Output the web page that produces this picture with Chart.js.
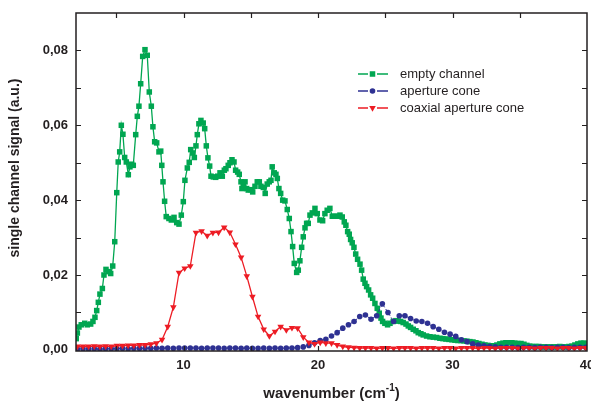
<!DOCTYPE html>
<html>
<head>
<meta charset="utf-8">
<script src="https://cdn.jsdelivr.net/npm/chart.js@4.4.0/dist/chart.umd.min.js"></script>
<style>
  html, body { margin: 0; padding: 0; background: #fff; }
  canvas { display: block; }
</style>
</head>
<body>
<canvas id="spectrum" width="591" height="403"></canvas>
<script>
// empty channel (green squares)
const emptyWavenumber = [
  2.02, 2.10, 2.22, 2.39, 2.65, 2.84, 3.09, 3.26, 3.41, 3.54,
  3.66, 3.78, 3.96, 4.08, 4.23, 4.40, 4.58, 4.73, 4.88, 5.03,
  5.14, 5.25, 5.37, 5.49, 5.62, 5.74, 5.89, 6.01, 6.14, 6.26,
  6.44, 6.56, 6.68, 6.81, 6.96, 7.13, 7.30, 7.45, 7.60, 7.72,
  7.85, 8.00, 8.17, 8.30, 8.38, 8.47, 8.59, 8.71, 8.91, 9.09,
  9.29, 9.49, 9.66, 9.83, 9.98, 10.10, 10.28, 10.42, 10.53, 10.68,
  10.80, 10.92, 11.02, 11.14, 11.29, 11.46, 11.57, 11.69, 11.81, 11.94,
  12.04, 12.21, 12.39, 12.54, 12.71, 12.88, 13.03, 13.15, 13.32, 13.45,
  13.60, 13.75, 13.87, 14.02, 14.14, 14.27, 14.34, 14.44, 14.57, 14.69,
  14.81, 14.99, 15.14, 15.31, 15.48, 15.63, 15.75, 15.93, 16.07, 16.22,
  16.37, 16.50, 16.59, 16.74, 16.87, 16.97, 17.09, 17.22, 17.37, 17.54,
  17.71, 17.86, 17.99, 18.11, 18.23, 18.41, 18.53, 18.65, 18.78, 18.90,
  19.03, 19.15, 19.27, 19.40, 19.57, 19.77, 19.94, 20.14, 20.34, 20.51,
  20.68, 20.88, 21.06, 21.26, 21.46, 21.63, 21.80, 21.95, 22.07, 22.20,
  22.32, 22.42, 22.54, 22.67, 22.80, 22.94, 23.12, 23.24, 23.36, 23.49,
  23.61, 23.76, 23.91, 24.06, 24.23, 24.40, 24.55, 24.68, 24.80, 24.97,
  25.17, 25.35, 25.59, 25.79, 25.96, 26.14, 26.33, 26.54, 26.71, 26.88,
  27.08, 27.28, 27.45, 27.65, 27.82, 28.07, 28.32, 28.57, 28.82, 29.06,
  29.29, 29.51, 29.73, 29.96, 30.18, 30.40, 30.62, 30.85, 31.07, 31.29,
  31.52, 31.74, 31.96, 32.19, 32.41, 32.63, 32.86, 33.08, 33.30, 33.52,
  33.75, 33.97, 34.19, 34.42, 34.64, 34.86, 35.09, 35.31, 35.53, 35.75,
  35.98, 36.20, 36.42, 36.65, 36.87, 37.09, 37.32, 37.54, 37.76, 37.98,
  38.21, 38.43, 38.65, 38.88, 39.10, 39.32, 39.55, 39.77, 39.99
];
const emptySignal = [
  0.0030, 0.0045, 0.0061, 0.0067, 0.0071, 0.0067, 0.0069, 0.0076, 0.0087, 0.0105,
  0.0127, 0.0149, 0.0164, 0.0200, 0.0215, 0.0209, 0.0204, 0.0224, 0.0289, 0.0420,
  0.0502, 0.0529, 0.0600, 0.0576, 0.0514, 0.0502, 0.0468, 0.0489, 0.0496, 0.0493,
  0.0575, 0.0624, 0.0651, 0.0711, 0.0784, 0.0802, 0.0787, 0.0689, 0.0651, 0.0596,
  0.0556, 0.0553, 0.0529, 0.0531, 0.0493, 0.0449, 0.0397, 0.0356, 0.0351, 0.0347,
  0.0354, 0.0340, 0.0336, 0.0360, 0.0396, 0.0453, 0.0486, 0.0501, 0.0535, 0.0526,
  0.0514, 0.0545, 0.0575, 0.0604, 0.0613, 0.0606, 0.0591, 0.0545, 0.0513, 0.0491,
  0.0464, 0.0462, 0.0461, 0.0464, 0.0473, 0.0464, 0.0480, 0.0484, 0.0493, 0.0500,
  0.0508, 0.0502, 0.0480, 0.0475, 0.0469, 0.0449, 0.0431, 0.0440, 0.0449, 0.0431,
  0.0427, 0.0428, 0.0422, 0.0437, 0.0449, 0.0449, 0.0437, 0.0434, 0.0418, 0.0443,
  0.0449, 0.0453, 0.0489, 0.0473, 0.0469, 0.0458, 0.0431, 0.0418, 0.0400, 0.0398,
  0.0375, 0.0351, 0.0316, 0.0276, 0.0231, 0.0207, 0.0213, 0.0238, 0.0274, 0.0302,
  0.0326, 0.0338, 0.0338, 0.0360, 0.0366, 0.0378, 0.0364, 0.0347, 0.0345, 0.0364,
  0.0373, 0.0378, 0.0357, 0.0357, 0.0357, 0.0360, 0.0355, 0.0342, 0.0333, 0.0316,
  0.0309, 0.0295, 0.0286, 0.0274, 0.0256, 0.0242, 0.0229, 0.0213, 0.0189, 0.0178,
  0.0169, 0.0160, 0.0147, 0.0138, 0.0124, 0.0111, 0.0098, 0.0085, 0.0076, 0.0071,
  0.0067, 0.0071, 0.0076, 0.0078, 0.0077, 0.0076, 0.0073, 0.0069, 0.0064, 0.0060,
  0.0055, 0.0051, 0.0046, 0.0043, 0.0040, 0.0037, 0.0035, 0.0034, 0.0033, 0.0031,
  0.0030, 0.0029, 0.0028, 0.0027, 0.0026, 0.0025, 0.0025, 0.0024, 0.0023, 0.0022,
  0.0021, 0.0019, 0.0017, 0.0015, 0.0013, 0.0012, 0.0011, 0.0011, 0.0013, 0.0016,
  0.0018, 0.0019, 0.0019, 0.0019, 0.0018, 0.0017, 0.0017, 0.0015, 0.0012, 0.0010,
  0.0009, 0.0009, 0.0009, 0.0008, 0.0008, 0.0008, 0.0008, 0.0008, 0.0008, 0.0009,
  0.0008, 0.0008, 0.0009, 0.0010, 0.0013, 0.0016, 0.0018, 0.0018, 0.0017
];

// the two cone measurements share one wavenumber grid
const coneWavenumber = [
  2.10, 2.52, 2.94, 3.36, 3.78, 4.20, 4.62, 5.04, 5.46, 5.88,
  6.30, 6.72, 7.14, 7.56, 7.98, 8.40, 8.82, 9.24, 9.66, 10.08,
  10.50, 10.92, 11.34, 11.76, 12.18, 12.60, 13.02, 13.44, 13.86, 14.28,
  14.70, 15.12, 15.54, 15.96, 16.38, 16.80, 17.22, 17.64, 18.06, 18.48,
  18.90, 19.32, 19.74, 20.16, 20.58, 21.00, 21.42, 21.84, 22.26, 22.68,
  23.10, 23.52, 23.94, 24.36, 24.78, 25.20, 25.62, 26.04, 26.46, 26.88,
  27.30, 27.72, 28.14, 28.56, 28.98, 29.40, 29.82, 30.24, 30.66, 31.08,
  31.50, 31.92, 32.34, 32.76, 33.18, 33.60, 34.02, 34.44, 34.86, 35.28,
  35.70, 36.12, 36.54, 36.96, 37.38, 37.80, 38.22, 38.64, 39.06, 39.48,
  39.90
];
const apertureSignal = [
  0.0002, 0.0003, 0.0002, 0.0003, 0.0002, 0.0003, 0.0003, 0.0003, 0.0004, 0.0003,
  0.0004, 0.0004, 0.0004, 0.0004, 0.0005, 0.0004, 0.0005, 0.0004, 0.0005, 0.0005,
  0.0005, 0.0005, 0.0004, 0.0005, 0.0005, 0.0005, 0.0004, 0.0005, 0.0005, 0.0004,
  0.0005, 0.0004, 0.0004, 0.0005, 0.0004, 0.0005, 0.0004, 0.0005, 0.0005, 0.0006,
  0.0008, 0.0012, 0.0019, 0.0025, 0.0028, 0.0037, 0.0046, 0.0058, 0.0067, 0.0076,
  0.0089, 0.0093, 0.0082, 0.0091, 0.0123, 0.0100, 0.0076, 0.0091, 0.0091, 0.0084,
  0.0077, 0.0076, 0.0071, 0.0062, 0.0055, 0.0047, 0.0042, 0.0036, 0.0027, 0.0022,
  0.0016, 0.0013, 0.0011, 0.0009, 0.0008, 0.0007, 0.0007, 0.0007, 0.0006, 0.0007,
  0.0007, 0.0006, 0.0007, 0.0007, 0.0006, 0.0007, 0.0007, 0.0006, 0.0007, 0.0007,
  0.0007
];
const coaxialSignal = [
  0.0009, 0.0009, 0.0009, 0.0010, 0.0009, 0.0010, 0.0009, 0.0011, 0.0011, 0.0012,
  0.0012, 0.0013, 0.0013, 0.0015, 0.0018, 0.0027, 0.0062, 0.0114, 0.0206, 0.0218,
  0.0224, 0.0313, 0.0317, 0.0305, 0.0313, 0.0314, 0.0327, 0.0314, 0.0282, 0.0247,
  0.0197, 0.0142, 0.0089, 0.0055, 0.0037, 0.0049, 0.0062, 0.0053, 0.0059, 0.0058,
  0.0034, 0.0020, 0.0016, 0.0020, 0.0018, 0.0018, 0.0013, 0.0009, 0.0007, 0.0006,
  0.0005, 0.0005, 0.0005, 0.0004, 0.0005, 0.0005, 0.0004, 0.0005, 0.0005, 0.0005,
  0.0004, 0.0005, 0.0005, 0.0005, 0.0004, 0.0005, 0.0005, 0.0004, 0.0005, 0.0005,
  0.0005, 0.0004, 0.0005, 0.0005, 0.0004, 0.0005, 0.0005, 0.0005, 0.0004, 0.0005,
  0.0005, 0.0004, 0.0005, 0.0005, 0.0005, 0.0004, 0.0005, 0.0005, 0.0004, 0.0005,
  0.0005
];

const seriesNames = ["empty channel", "aperture cone", "coaxial aperture cone"];

// axis ticks: labelled ones and the small marks all round the frame
const xTickLabels = [10, 20, 30, 40];
const yTickLabels = [0, 0.02, 0.04, 0.06, 0.08];
const xTickMarks = [5, 10, 15, 20, 25, 30, 35];
const yTickMarks = [0.01, 0.02, 0.03, 0.04, 0.05, 0.06, 0.07, 0.08];

const GREEN = "#00a651";
const BLUE = "#2e3192";
const RED = "#ed1c24";
const INK = "#231f20";
const FONT = "'Liberation Sans', Arial, sans-serif";

Chart.defaults.font.family = FONT;
Chart.defaults.color = INK;

function toPoints(xs, ys) {
    return xs.map((x, i) => ({ x: x, y: ys[i] }));
}

const seriesStyles = [
    { color: GREEN, pointStyle: "rect", radius: 3.9, rotation: 0 },
    { color: BLUE, pointStyle: "circle", radius: 2.8, rotation: 0 },
    { color: RED, pointStyle: "triangle", radius: 3.8, rotation: 180 },
];

// frame, inward ticks, legend and both axis titles
const framePlugin = {
    id: "frame",
    afterDraw(chart) {
        const { ctx, chartArea: a, scales } = chart;
        const xs = scales.x, ys = scales.y;
        ctx.save();
        ctx.strokeStyle = INK;
        ctx.lineWidth = 1.5;
        ctx.strokeRect(a.left, a.top, a.right - a.left, a.bottom - a.top);

        ctx.lineWidth = 1.2;
        ctx.beginPath();
        xTickMarks.forEach(v => {
            const px = Math.round(xs.getPixelForValue(v)) + 0.5;
            ctx.moveTo(px, a.bottom); ctx.lineTo(px, a.bottom - 5);
            ctx.moveTo(px, a.top); ctx.lineTo(px, a.top + 5);
        });
        yTickMarks.forEach(v => {
            const py = Math.round(ys.getPixelForValue(v)) + 0.5;
            ctx.moveTo(a.left, py); ctx.lineTo(a.left + 5, py);
            ctx.moveTo(a.right, py); ctx.lineTo(a.right - 5, py);
        });
        ctx.stroke();

        // legend
        const legendY = [74, 91, 108];
        seriesStyles.forEach((s, i) => {
            const y = legendY[i];
            ctx.strokeStyle = s.color;
            ctx.lineWidth = 1.3;
            ctx.beginPath();
            ctx.moveTo(358, y); ctx.lineTo(368, y);
            ctx.moveTo(377, y); ctx.lineTo(388, y);
            ctx.stroke();
            ctx.fillStyle = s.color;
            Chart.helpers.drawPoint(ctx, {
                pointStyle: s.pointStyle,
                radius: s.radius,
                rotation: s.rotation,
                borderWidth: 0,
            }, 372.5, y);
            ctx.fillStyle = INK;
            ctx.font = "13px " + FONT;
            ctx.textAlign = "left";
            ctx.textBaseline = "middle";
            ctx.fillText(seriesNames[i], 400, y);
        });

        // y axis title
        ctx.save();
        ctx.translate(15, 168);
        ctx.rotate(-Math.PI / 2);
        ctx.font = "bold 14px " + FONT;
        ctx.textAlign = "center";
        ctx.textBaseline = "middle";
        ctx.fillStyle = INK;
        ctx.fillText("single channel signal (a.u.)", 0, 0);
        ctx.restore();

        // x axis title: wavenumber (cm^-1)
        const cx = (a.left + a.right) / 2;
        const main = "wavenumber (cm";
        const sup = "-1";
        const tail = ")";
        ctx.fillStyle = INK;
        ctx.textBaseline = "alphabetic";
        ctx.font = "bold 15px " + FONT;
        const wMain = ctx.measureText(main).width;
        const wTail = ctx.measureText(tail).width;
        ctx.font = "bold 10px " + FONT;
        const wSup = ctx.measureText(sup).width;
        let x = cx - (wMain + wSup + wTail) / 2;
        ctx.textAlign = "left";
        ctx.font = "bold 15px " + FONT;
        ctx.fillText(main, x, 398);
        x += wMain;
        ctx.font = "bold 10px " + FONT;
        ctx.fillText(sup, x, 391);
        x += wSup;
        ctx.font = "bold 15px " + FONT;
        ctx.fillText(tail, x, 398);
        ctx.restore();
    },
};

const datasets = [
    { data: toPoints(emptyWavenumber, emptySignal), order: 3, borderWidth: 1.3 },
    { data: toPoints(coneWavenumber, apertureSignal), order: 2, borderWidth: 1, borderDash: [3, 2] },
    { data: toPoints(coneWavenumber, coaxialSignal), order: 1, borderWidth: 1.3 },
].map((d, i) => Object.assign({
    label: seriesNames[i],
    borderColor: seriesStyles[i].color,
    backgroundColor: seriesStyles[i].color,
    pointBackgroundColor: seriesStyles[i].color,
    pointBorderWidth: 0,
    pointStyle: seriesStyles[i].pointStyle,
    pointRadius: seriesStyles[i].radius,
    pointRotation: seriesStyles[i].rotation,
    tension: 0,
    fill: false,
}, d));

new Chart(document.getElementById("spectrum").getContext("2d"), {
    type: "line",
    data: { datasets: datasets },
    options: {
        responsive: false,
        animation: false,
        layout: { padding: { top: 13, right: 4, bottom: 0, left: 0 } },
        plugins: { legend: { display: false }, tooltip: { enabled: false } },
        scales: {
            x: {
                type: "linear",
                min: 2,
                max: 40,
                grid: { display: false, drawTicks: false },
                border: { display: false },
                afterBuildTicks: (scale) => {
                    scale.ticks = xTickLabels.map(v => ({ value: v }));
                },
                afterFit: (scale) => {
                    scale.height = 52;
                    scale.paddingLeft = 0;
                    scale.paddingRight = 0;
                },
                ticks: {
                    padding: 7,
                    maxRotation: 0,
                    autoSkip: false,
                    color: INK,
                    font: { size: 13, weight: "bold" },
                    callback: (v) => String(v),
                },
            },
            y: {
                min: -0.0003,
                max: 0.09,
                grid: { display: false, drawTicks: false },
                border: { display: false },
                afterBuildTicks: (scale) => {
                    scale.ticks = yTickLabels.map(v => ({ value: v }));
                },
                afterFit: (scale) => {
                    scale.width = 76;
                    scale.paddingTop = 0;
                    scale.paddingBottom = 0;
                },
                ticks: {
                    padding: 8,
                    color: INK,
                    font: { size: 13, weight: "bold" },
                    callback: (v) => v.toFixed(2).replace(".", ","),
                },
            },
        },
    },
    plugins: [framePlugin],
});
</script>
</body>
</html>
